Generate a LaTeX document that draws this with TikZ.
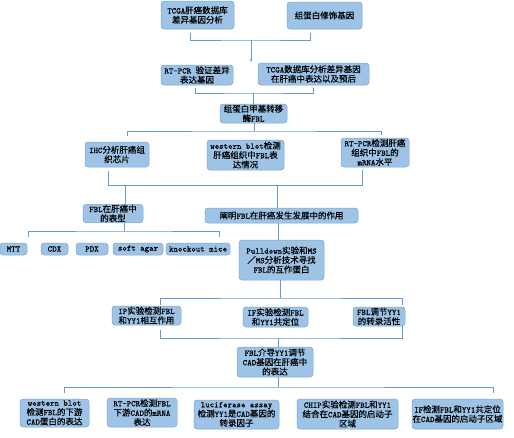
\documentclass[tikz,border=0pt]{standalone}
\usepackage{fontspec}
\usetikzlibrary{arrows.meta}
\setmonofont{lmmono10-regular}[Extension=.otf, FakeBold=0.8]
\newfontfamily\cjkf{Noto Sans CJK SC}[FakeBold=0.4]
\makeatletter
\count@="3000
\loop \XeTeXcharclass\count@=7 \advance\count@ by 1 \ifnum\count@<"A000 \repeat
\count@="FF00
\loop \XeTeXcharclass\count@=7 \advance\count@ by 1 \ifnum\count@<"FFF0 \repeat
\makeatother
\XeTeXinterchartoks 0 7 = {\cjkf}
\XeTeXinterchartoks 4095 7 = {\cjkf}
\XeTeXinterchartoks 7 0 = {\ttfamily}
\XeTeXinterchartoks 7 4095 = {\ttfamily}
\XeTeXinterchartokenstate=1
\definecolor{boxfill}{RGB}{157,195,230}
\definecolor{boxline}{RGB}{126,165,210}
\definecolor{linec}{RGB}{100,155,212}
\tikzset{
  box/.style={draw=boxline, fill=boxfill, rounded corners=3pt, align=center, inner sep=0.5pt,
    font=\fontsize{8.5}{9.5}\selectfont\ttfamily, line width=0.5pt},
  sz/.style 2 args={minimum width=#1pt, minimum height=#2pt},
  conn/.style={draw=linec, line width=0.8pt}
}
\begin{document}
\begin{tikzpicture}[x=1pt,y=-1pt]
\path[use as bounding box] (0,0) rectangle (514,437);
\fill[white] (0,0) rectangle (514,437);
% nodes
\node[box, sz={73}{28}] (b1) at (197.5,15) {TCGA肝癌数据库\\差异基因分析};
\node[box, sz={75}{27}] (b2) at (324.5,15.5) {组蛋白修饰基因};
\node[box, sz={72}{20}] (b3) at (197,75) {RT-PCR 验证差异\\表达基因};
\node[box, sz={111}{22}] (b4) at (313.5,74) {TCGA数据库分析差异基因\\在肝癌中表达以及预后};
\node[box, sz={67}{19}] (b5) at (253.5,113.5) {组蛋白甲基转移\\酶FBL};
\node[box, sz={64}{25}] (b6) at (117,154.5) {IHC分析肝癌组\\织芯片};
\node[box, sz={77}{30}] (b7) at (245.5,155) {western blot检测\\肝癌组织中FBL表\\达情况};
\node[box, sz={68}{29}] (b8) at (375,152.5) {RT-PCR检测肝癌\\组织中FBL的\\mRNA水平};
\node[box, sz={60}{17}] (b9) at (113,213.5) {FBL在肝癌中\\的表型};
\node[box, sz={153}{15}] (b10) at (281.5,215.5) {阐明FBL在肝癌发生发展中的作用};
\node[box, sz={27}{12}] (s1) at (13.5,249) {MTT};
\node[box, sz={27}{12}] (s2) at (54.5,249) {CDX};
\node[box, sz={32}{12}] (s3) at (92,249) {PDX};
\node[box, sz={50}{12}] (s4) at (138,249) {soft agar};
\node[box, sz={64}{12}] (s5) at (198,249) {knockout mice};
\node[box, sz={85}{40}] (b11) at (281.5,260) {Pulldown实验和MS\\／MS分析技术寻找\\FBL的互作蛋白};
\node[box, sz={69}{19}] (b12) at (146.5,315.5) {IP实验检测FBL\\和YY1相互作用};
\node[box, sz={65}{20}] (b13) at (275.5,317) {IF实验检测FBL\\和YY1共定位};
\node[box, sz={52}{19}] (b14) at (379,316.5) {FBL调节YY1\\的转录活性};
\node[box, sz={76}{30}] (b15) at (275,362) {FBL介导YY1调节\\CAD基因在肝癌中\\的表达};
\node[box, sz={69}{28}] (c1) at (54.5,413) {western blot\\检测FBL的下游\\CAD蛋白的表达};
\node[box, sz={70}{29}] (c2) at (142,412.5) {RT-PCR检测FBL\\下游CAD的mRNA\\表达};
\node[box, sz={85}{29}] (c3) at (236.5,414.5) {luciferase assay\\检测YY1是CAD基因的\\转录因子};
\node[box, sz={101}{30}] (c4) at (347.5,414) {CHIP实验检测FBL和YY1\\结合在CAD基因的启动子\\区域};
\node[box, sz={91}{30}] (c5) at (457.5,414) {IF检测FBL和YY1共定位\\在CAD基因的启动子区域};
% connector coordinates
\coordinate (k1l) at (190,33); \coordinate (k1r) at (310,33);
\coordinate (k1m) at (251,40); \coordinate (k1a) at (251,62);
\coordinate (k2l) at (195,88); \coordinate (k2r) at (313,88); \coordinate (k2m) at (253,93);
\coordinate (k3m) at (254,131); \coordinate (k3l) at (127,136); \coordinate (k3r) at (381,135);
\coordinate (k4l1) at (108,171); \coordinate (k4l2) at (108,185);
\coordinate (k4r1) at (362,170); \coordinate (k4r2) at (362,185);
\coordinate (k4a) at (125,185); \coordinate (k4b) at (277,185);
\coordinate (k5m) at (124,231); \coordinate (k5l) at (28,237); \coordinate (k5r) at (219,237);
\coordinate (x278) at (278,0);
\coordinate (k6m) at (280,298); \coordinate (k6l) at (160,305); \coordinate (k6r) at (402,305);
\coordinate (k7m) at (278,338); \coordinate (k7l) at (160,330); \coordinate (k7r) at (402,326);
\coordinate (k8m) at (278,387); \coordinate (k8l) at (64,393); \coordinate (k8r) at (493,393);
% connectors
\draw[conn] (k1l) |- (k1m) -| (k1r);
\draw[conn, -{Stealth[length=3pt,width=2.5pt]}] (k1m) -- (k1a);
\draw[conn] (k2l) |- (k2m) -| (k2r);
\draw[conn] (k2m) -- (k2m |- b5.north);
\draw[conn] (k3m |- b5.south) -- (k3m);
\draw[conn] (k3l) |- (k3m) -| (k3r);
\draw[conn] (k4l1) -- (k4l2) -- (k4r2) -- (k4r1);
\draw[conn] (k4a) -- (k4a |- b9.north);
\draw[conn] (k4b) -- (k4b |- b10.north);
\draw[conn] (k5m |- b9.south) -- (k5m);
\draw[conn] (k5l) |- (k5m) -| (k5r);
\draw[conn] (x278 |- b10.south) -- (x278 |- b11.north);
\draw[conn] (k6m |- b11.south) -- (k6m);
\draw[conn] (k6l) |- (k6m) -| (k6r);
\draw[conn] (k7l) |- (k7m) -| (k7r);
\draw[conn] (k7m) -- (k7m |- b15.north);
\draw[conn] (k8m |- b15.south) -- (k8m);
\draw[conn] (k8l) |- (k8m) -| (k8r);
\end{tikzpicture}
\end{document}
